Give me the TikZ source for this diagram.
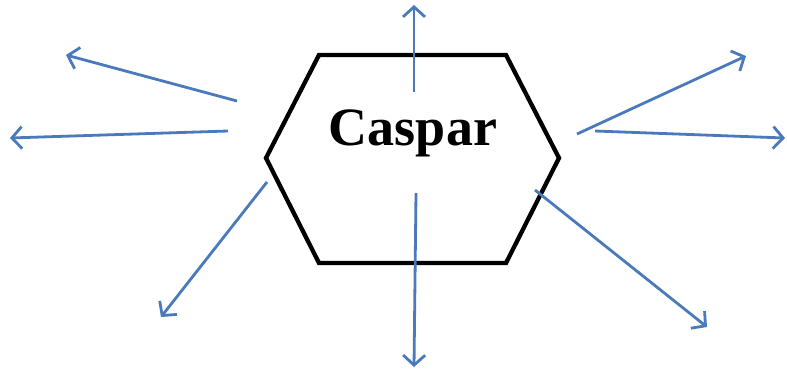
\documentclass[tikz,border=0pt]{standalone}
\usepackage{fontspec}
\setmainfont{Liberation Serif}
\usetikzlibrary{arrows.meta}
\definecolor{rayblue}{RGB}{74,122,187}

\begin{document}
\begin{tikzpicture}[
        x=1pt, y=-1pt,
        hexline/.style={draw=black, line width=4.3pt, line join=miter},
        ray/.style={draw=rayblue, line width=2.8pt, -{Straight Barb[length=10pt, width=22pt, line width=2.8pt]}},
        label/.style={font=\bfseries\fontsize{54}{60}\selectfont, inner sep=0pt}
    ]
        \useasboundingbox (0,0) rectangle (787,370);

        % Hexagon
        \coordinate (h1) at (319,55);
        \coordinate (h2) at (506,55);
        \coordinate (h3) at (559,158);
        \coordinate (h4) at (506,263);
        \coordinate (h5) at (319,263);
        \coordinate (h6) at (266,158);
        \draw[hexline] (h1) -- (h2) -- (h3) -- (h4) -- (h5) -- (h6) -- cycle;

        % Text
        \node[label, anchor=base] (caspar) at (413,145) {Caspar};

        % Arrows
        \foreach \name/\sx/\sy/\ex/\ey in {
            ul/237/101/66/55, l/228/131/10/138, dl/267/182/161/317,
            up/414/92/414/5, dn/416/193/414/367,
            ur/577/134/746/56, r/595/131/785/138, dr/535/190/707/327}{
            \coordinate (\name s) at (\sx,\sy);
            \coordinate (\name e) at (\ex,\ey);
            \draw[ray] (\name s) -- (\name e);
        }
    \end{tikzpicture}
\end{document}
